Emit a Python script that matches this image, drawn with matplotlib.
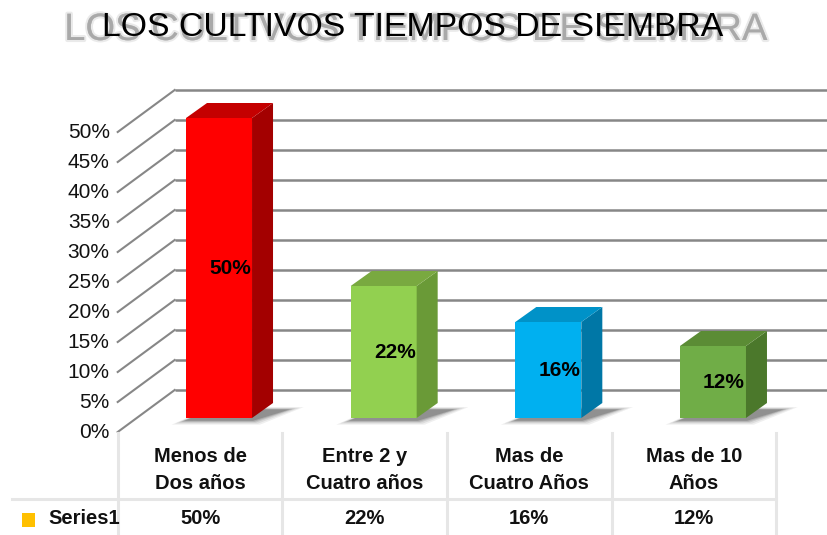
import matplotlib
matplotlib.use('Agg')
import matplotlib.pyplot as plt
import matplotlib.transforms as mtransforms
import matplotlib.patheffects as pe
from matplotlib.patches import Polygon, Rectangle

# ---------------- data ----------------
categories = ["Menos de\nDos años", "Entre 2 y\nCuatro años", "Mas de\nCuatro Años", "Mas de 10\nAños"]
values = [0.50, 0.22, 0.16, 0.12]
value_labels = ["50%", "22%", "16%", "12%"]
series_name = "Series1"
title = "LOS CULTIVOS TIEMPOS DE SIEMBRA"
y_ticks = [0.00, 0.05, 0.10, 0.15, 0.20, 0.25, 0.30, 0.35, 0.40, 0.45, 0.50]
y_tick_labels = ["0%", "5%", "10%", "15%", "20%", "25%", "30%", "35%", "40%", "45%", "50%"]

# ---------------- style ----------------
front_colors = ["#FF0000", "#92D050", "#00B0F0", "#70AD47"]
side_colors = ["#A30000", "#6A9A37", "#0077A6", "#4B782B"]
top_colors = ["#C40000", "#79A940", "#0092C8", "#5B8C35"]
grid_color = "#878787"
table_color = "#E6E6E6"

plt.rcParams['font.family'] = ['Liberation Sans', 'DejaVu Sans']

W, H, DPI = 827, 535, 100
fig = plt.figure(figsize=(W / DPI, H / DPI), dpi=DPI)
fig.patch.set_facecolor('white')

left_px, right_px = 136.7, 795.3
top_px, bottom_px = 118, 418
ax = fig.add_axes([left_px / W, 1 - bottom_px / H, (right_px - left_px) / W, (bottom_px - top_px) / H])
ax.set_xlim(-0.5, len(values) - 0.5)
ax.set_ylim(0, 0.5)
ax.axis('off')

p0 = ax.transData.transform((0, 0))
p1 = ax.transData.transform((1, 1))
sx = p1[0] - p0[0]
sy = p1[1] - p0[1]


def off(dx_px, dy_px):
    return dx_px / sx, dy_px / sy


def data_x_of_px(xpx):
    return ax.transData.inverted().transform((xpx, 0))[0]


fx, fy = off(-19, -14)     # front plane
bx, by = off(38, 28)       # back wall
ddx, ddy = off(21, 15)     # bar depth
bw = 66 / sx
x_right_edge = data_x_of_px(W + 5)
x0 = -0.5

# gridlines on back wall and diagonal lines on the left wall
for t, lab in zip(y_ticks, y_tick_labels):
    ax.plot([x0 + bx, x_right_edge], [t + by, t + by], color=grid_color, lw=1.8,
            clip_on=False, zorder=1, solid_capstyle='butt')
    ax.plot([x0 + fx, x0 + bx], [t + fy, t + by], color=grid_color, lw=1.5,
            clip_on=False, zorder=1)
    ax.text(x0 + fx - 8 / sx, t + fy, lab, ha='right', va='center', fontsize=15,
            color='#111111', clip_on=False)

xs = list(range(len(values)))

# shadows
for x, v in zip(xs, values):
    for k, a in zip([16, 12, 8, 5, 2], [0.07, 0.09, 0.12, 0.15, 0.2]):
        e1, e2 = off(k, k * 0.55)
        pts = [(x - bw / 2 - e1 * 0.9, -ddy * 0.15 - e2 * 0.5),
               (x + bw / 2 + e1 * 0.5, -ddy * 0.15 - e2 * 0.5),
               (x + bw / 2 + ddx * 1.7 + e1, ddy * 0.55 + e2 * 0.3),
               (x - bw / 2 + ddx * 1.2, ddy * 0.55 + e2 * 0.3)]
        ax.add_patch(Polygon(pts, closed=True, facecolor='#202020', edgecolor='none',
                             alpha=a, zorder=2, clip_on=False))

# bars (front faces)
ax.bar(xs, values, width=bw, color=front_colors, zorder=3, clip_on=False)

for x, v, sc, tc in zip(xs, values, side_colors, top_colors):
    side = [(x + bw / 2, 0), (x + bw / 2 + ddx, ddy), (x + bw / 2 + ddx, v + ddy), (x + bw / 2, v)]
    ax.add_patch(Polygon(side, closed=True, facecolor=sc, edgecolor='none', zorder=3, clip_on=False))
    top = [(x - bw / 2, v), (x + bw / 2, v), (x + bw / 2 + ddx, v + ddy), (x - bw / 2 + ddx, v + ddy)]
    ax.add_patch(Polygon(top, closed=True, facecolor=tc, edgecolor='none', zorder=3, clip_on=False))

for x, v, lab in zip(xs, values, value_labels):
    ax.text(x + 11 / sx, v / 2, lab, ha='center', va='center', fontsize=15,
            fontweight='bold', color='black', zorder=5)

# ---------------- data table ----------------
bt = mtransforms.blended_transform_factory(ax.transData, fig.transFigure)


def yf(ypx):
    return 1 - ypx / H


borders = [i - 0.5 + fx for i in range(len(values) + 1)]
for bxv in borders:
    ax.plot([bxv, bxv], [yf(433), yf(536)], color=table_color, lw=2.2, transform=bt,
            clip_on=False, zorder=1)
ax.plot([data_x_of_px(12), borders[-1]], [yf(499), yf(499)], color=table_color, lw=2.2,
        transform=bt, clip_on=False, zorder=1)

for x, cat in zip(xs, categories):
    ax.text(x + fx, yf(470), cat, transform=bt, ha='center', va='center', fontsize=14.5,
            fontweight='bold', linespacing=1.5, color='#111111', clip_on=False)
for x, lab in zip(xs, value_labels):
    ax.text(x + fx, yf(518), lab, transform=bt, ha='center', va='center', fontsize=14.5,
            fontweight='bold', color='#111111', clip_on=False)

fig.patches.append(Rectangle((22 / W, yf(527)), 13 / W, 14 / H, transform=fig.transFigure,
                             facecolor='#FFC000', edgecolor='none'))
fig.text(48 / W, yf(518), series_name, ha='left', va='center', fontsize=14.5,
         fontweight='bold', color='#111111')

# ---------------- title with blurred reflection ----------------
fig.text(416 / W, yf(30), title, ha='center', va='center', fontsize=27.5,
         color='#a6a6a6', alpha=0.7,
         path_effects=[pe.withStroke(linewidth=3, foreground='#dcdcdc', alpha=0.6),
                       pe.Normal()])
fig.text(413 / W, yf(28), title, ha='center', va='center', fontsize=24.3, color='black')

fig.savefig('out.png', dpi=DPI, facecolor='white')
